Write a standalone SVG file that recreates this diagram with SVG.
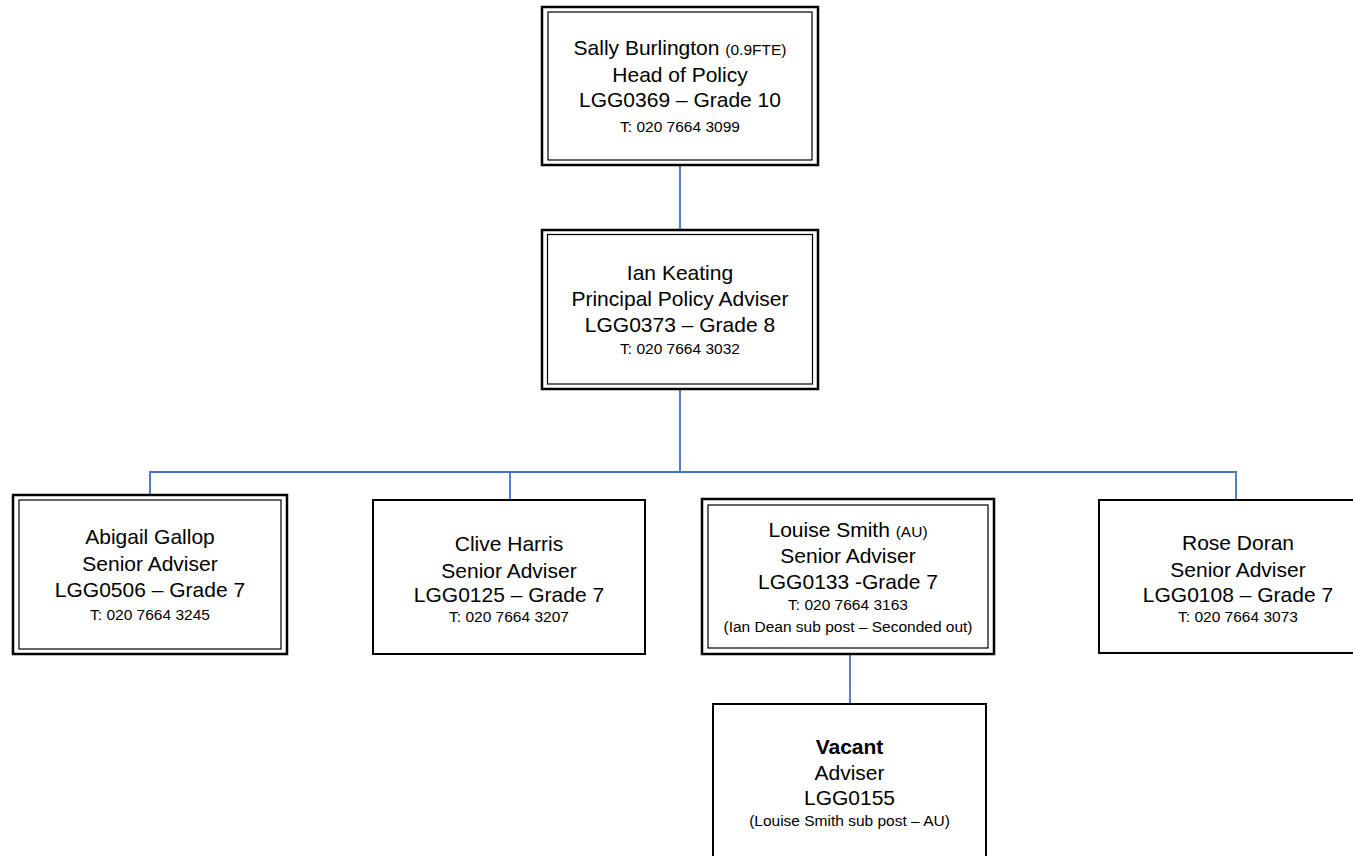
<svg xmlns="http://www.w3.org/2000/svg" width="1353" height="856" viewBox="0 0 1353 856">
<style>
.bg{fill:#ffffff}
.outer{fill:#ffffff;stroke:#000000;stroke-width:2.5}
.inner{fill:none;stroke:#000000;stroke-width:1.2}
.single{fill:#ffffff;stroke:#000000;stroke-width:2}
.conn{fill:none;stroke:#4472C4;stroke-width:1.8}
text{font-family:"Liberation Sans",Arial,sans-serif;fill:#000000;text-anchor:middle}
.big{font-size:21px}
.sm{font-size:15.5px}
.b{font-weight:bold}
</style>
<rect class="bg" x="0" y="0" width="1353" height="856"/>
<g id="connectors">
<path class="conn" d="M680,165 V230"/>
<path class="conn" d="M680,389 V472"/>
<path class="conn" d="M150,495 V472 H1236 V500"/>
<path class="conn" d="M510,472 V500"/>
<path class="conn" d="M850,654 V704"/>
</g>
<g id="node-sally">
<rect class="outer" x="542" y="7" width="276" height="158"/>
<rect class="inner" x="548" y="12" width="264" height="148"/>
<text class="big" x="680" y="55">Sally Burlington <tspan class="sm">(0.9FTE)</tspan></text>
<text class="big" x="680" y="81.5">Head of Policy</text>
<text class="big" x="680" y="107">LGG0369 – Grade 10</text>
<text class="sm" x="680" y="131.5">T: 020 7664 3099</text>
</g>
<g id="node-ian">
<rect class="outer" x="542" y="230" width="276" height="159"/>
<rect class="inner" x="547.5" y="234.5" width="265" height="149.5"/>
<text class="big" x="680" y="279.5">Ian Keating</text>
<text class="big" x="680" y="306">Principal Policy Adviser</text>
<text class="big" x="680" y="332">LGG0373 – Grade 8</text>
<text class="sm" x="680" y="353.5">T: 020 7664 3032</text>
</g>
<g id="node-abigail">
<rect class="outer" x="13" y="495" width="274" height="159"/>
<rect class="inner" x="19" y="500" width="262" height="149"/>
<text class="big" x="150" y="543.5">Abigail Gallop</text>
<text class="big" x="150" y="570.5">Senior Adviser</text>
<text class="big" x="150" y="597">LGG0506 – Grade 7</text>
<text class="sm" x="150" y="620">T: 020 7664 3245</text>
</g>
<g id="node-clive">
<rect class="single" x="373" y="500" width="272" height="154"/>
<text class="big" x="509" y="551">Clive Harris</text>
<text class="big" x="509" y="577.5">Senior Adviser</text>
<text class="big" x="509" y="602">LGG0125 – Grade 7</text>
<text class="sm" x="509" y="622">T: 020 7664 3207</text>
</g>
<g id="node-louise">
<rect class="outer" x="702" y="499" width="292" height="155"/>
<rect class="inner" x="708" y="505" width="280" height="143"/>
<text class="big" x="848" y="536.5">Louise Smith <tspan class="sm">(AU)</tspan></text>
<text class="big" x="848" y="562.5">Senior Adviser</text>
<text class="big" x="848" y="588.5">LGG0133 -Grade 7</text>
<text class="sm" x="848" y="610">T: 020 7664 3163</text>
<text class="sm" x="848" y="631.5">(Ian Dean sub post – Seconded out)</text>
</g>
<g id="node-rose">
<rect class="single" x="1099" y="500" width="278" height="153"/>
<text class="big" x="1238" y="550">Rose Doran</text>
<text class="big" x="1238" y="576.5">Senior Adviser</text>
<text class="big" x="1238" y="601.5">LGG0108 – Grade 7</text>
<text class="sm" x="1238" y="621.5">T: 020 7664 3073</text>
</g>
<g id="node-vacant">
<rect class="single" x="713" y="704" width="273" height="170"/>
<text class="big b" x="849.5" y="753.5">Vacant</text>
<text class="big" x="849.5" y="780">Adviser</text>
<text class="big" x="849.5" y="805">LGG0155</text>
<text class="sm" x="849.5" y="826">(Louise Smith sub post – AU)</text>
</g>
</svg>
